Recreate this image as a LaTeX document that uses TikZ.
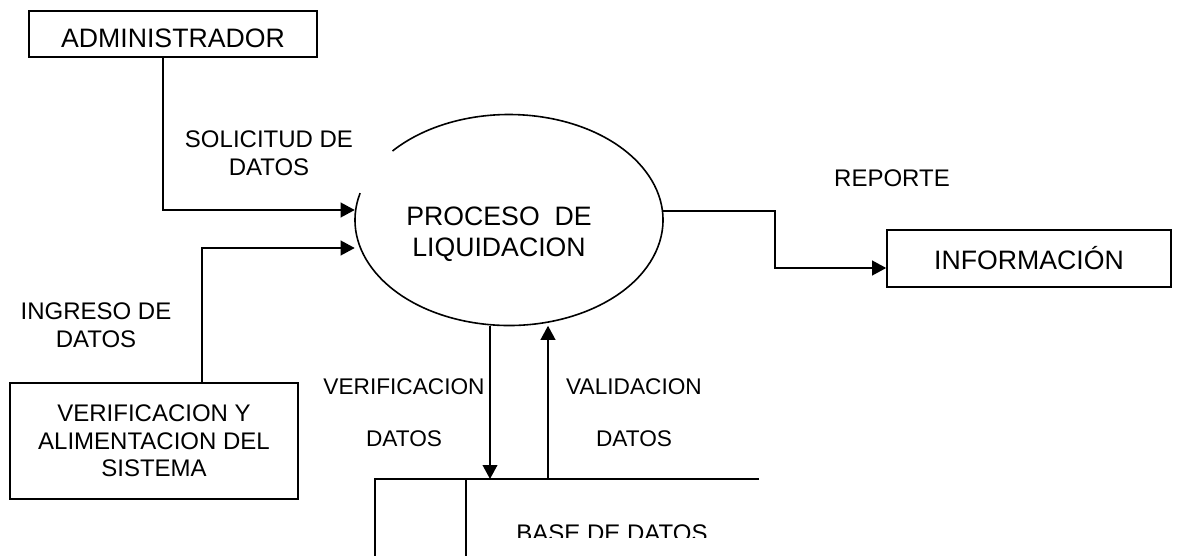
\documentclass[tikz,border=0pt]{standalone}
\usepackage{fontspec}
\setmainfont{Liberation Sans}
\usetikzlibrary{arrows.meta,shapes.geometric}
\begin{document}
\begin{tikzpicture}[x=0.75pt,y=-0.75pt,
  lbl/.style={inner sep=0pt,align=center,font=\fontsize{18pt}{20.5pt}\selectfont},
  box/.style={lbl,draw,line width=1.2pt,rectangle},
  arr/.style={line width=1.3pt,-{Triangle[length=10.5pt,width=11pt]}},
  ln/.style={line width=1.2pt}]
\useasboundingbox (0,0) rectangle (1184,556);

% boxes
\node[box,minimum width=216pt,minimum height=34.5pt,text height=20.3pt,text depth=0pt,font=\fontsize{20pt}{23pt}\selectfont] (admin) at (173,34) {ADMINISTRADOR};
\node[box,minimum width=216pt,minimum height=87pt] (verif) at (154,441) {VERIFICACION Y\\ALIMENTACION DEL\\SISTEMA};
\node[box,minimum width=213pt,minimum height=42.75pt,font=\fontsize{20pt}{23pt}\selectfont] (info) at (1029,258.5) {INFORMACIÓN};

% process
\node[ellipse,minimum width=231pt,minimum height=158.25pt,inner sep=0pt] (proc) at (509,220) {};
\draw[ln] ([shift={(165.2:115.5pt and 79.125pt)}]proc.center) arc[start angle=165.2,end angle=499.15,x radius=115.5pt,y radius=79.125pt];
\node[lbl,anchor=north,font=\fontsize{20pt}{23.3pt}\selectfont] (ptext) at (499,206.9) {PROCESO\ \ DE\\LIQUIDACION};

% labels
\node[lbl,anchor=north] (sol) at (269,130.8) {SOLICITUD DE\\DATOS};
\node[lbl,anchor=base] (rep) at (892,186) {REPORTE};
\node[lbl,anchor=north,font=\fontsize{18pt}{21pt}\selectfont] (ing) at (96,302.8) {INGRESO DE\\DATOS};
\node[lbl,anchor=north,font=\fontsize{17pt}{39pt}\selectfont] (verl) at (404,378.8) {VERIFICACION\\DATOS};
\node[lbl,anchor=north,font=\fontsize{17pt}{39pt}\selectfont] (vall) at (634,378.8) {VALIDACION\\DATOS};

% data store
\coordinate (stL) at (375,479);
\coordinate (stR) at (759,479);
\coordinate (stD) at (466,479);
\coordinate (stB) at (375,556);
\draw[ln] (stR) -- (stL) -- (stL |- stB);
\draw[ln] (stD) -- (stD |- stB);
\begin{scope}
\clip (0,0) rectangle (1184,537);
\node[lbl,anchor=base] (store) at (612,541) {BASE DE DATOS};
\end{scope}

% connectors
\coordinate (a1) at (163,210);
\coordinate (a2) at (202,248);
\coordinate (r1) at (775,211);
\coordinate (r2) at (775,268);
\coordinate (v1) at (490,479);
\coordinate (v2) at (548,479);
\draw[arr] (admin.south -| a1) -- (a1) -- (a1 -| proc.west);
\draw[arr] (verif.north -| a2) -- (a2) -- (a2 -| proc.west);
\draw[arr] (r1 -| proc.east) -- (r1) -- (r2) -- (r2 -| info.west);
\draw[arr] (proc.south -| v1) -- (v1);
\draw[arr] (v2) -- (proc.south -| v2);
\end{tikzpicture}
\end{document}
